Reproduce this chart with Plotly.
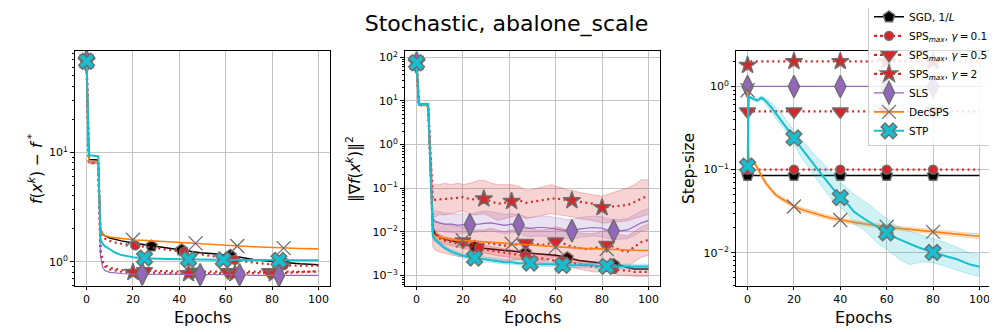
import math
import plotly.graph_objects as go

# ---------------- data: panel 1  f(x^k) - f* ----------------
EPOCHS_F = [0, 1, 5, 6, 7, 8, 10, 12, 15, 20, 21, 24, 25, 28, 35, 41, 42, 44, 46, 47, 49,
            55, 59, 61, 62, 64, 65, 66, 72, 79, 81, 83, 85, 92, 100]
SGD_F = [68, 8.6, 8.5, 2.0, 1.78, 1.72, 1.65, 1.6, 1.55, 1.48, 1.47, 1.43, 1.42, 1.39, 1.33, 1.28,
         1.27, 1.26, 1.24, 1.23, 1.21, 1.18, 1.16, 1.15, 1.14, 1.12, 1.11, 1.1, 1.05, 1.01, 1.0,
         0.99, 0.98, 0.96, 0.94]
SPS01_F = [68, 8.2, 8.1, 1.9, 1.7, 1.62, 1.55, 1.5, 1.46, 1.42, 1.41, 1.38, 1.37, 1.34, 1.29, 1.24,
           1.23, 1.21, 1.19, 1.18, 1.16, 1.12, 1.09, 1.07, 1.06, 1.04, 1.03, 1.02, 0.98, 0.95, 0.94,
           0.93, 0.93, 0.92, 0.92]
SPS05_F = [68, 8.0, 7.9, 1.3, 1.0, 0.93, 0.88, 0.86, 0.84, 0.83, 0.83, 0.82, 0.82, 0.82, 0.82, 0.81,
           0.81, 0.81, 0.81, 0.81, 0.81, 0.81, 0.8, 0.8, 0.8, 0.8, 0.8, 0.8, 0.8, 0.8, 0.8,
           0.8, 0.8, 0.81, 0.81]
SPS2_F = [68, 8.0, 7.9, 1.25, 0.97, 0.9, 0.85, 0.83, 0.81, 0.8, 0.8, 0.79, 0.79, 0.79, 0.79, 0.78,
          0.78, 0.78, 0.78, 0.78, 0.78, 0.78, 0.78, 0.78, 0.78, 0.78, 0.78, 0.78, 0.78, 0.78, 0.78,
          0.79, 0.79, 0.8, 0.82]
SLS_F = [68, 8.0, 7.9, 1.12, 0.88, 0.83, 0.8, 0.79, 0.78, 0.77, 0.77, 0.77, 0.77, 0.77, 0.77, 0.76,
         0.76, 0.76, 0.76, 0.76, 0.76, 0.76, 0.76, 0.76, 0.76, 0.76, 0.76, 0.76, 0.75, 0.75, 0.75,
         0.75, 0.75, 0.75, 0.75]
DEC_F = [68, 8.3, 8.2, 2.0, 1.75, 1.72, 1.68, 1.66, 1.63, 1.59, 1.58, 1.57, 1.56, 1.55, 1.52, 1.49,
         1.49, 1.48, 1.47, 1.47, 1.46, 1.43, 1.42, 1.41, 1.41, 1.4, 1.39, 1.39, 1.37, 1.35, 1.34,
         1.34, 1.33, 1.32, 1.31]
STP_F = [68, 9.4, 9.2, 1.6, 1.45, 1.38, 1.3, 1.22, 1.15, 1.1, 1.09, 1.08, 1.08, 1.07, 1.06, 1.05,
         1.05, 1.05, 1.05, 1.05, 1.05, 1.04, 1.04, 1.04, 1.04, 1.04, 1.04, 1.04, 1.03, 1.03, 1.03,
         1.03, 1.03, 1.03, 1.03]

# ---------------- data: panel 2  ||grad f(x^k)||^2 ----------------
EPOCHS_G = [0, 1, 5, 6, 7, 8, 10, 12, 15, 18, 20, 23, 25, 27, 29, 32, 35, 38, 41, 44, 47, 49, 52,
            55, 58, 60, 63, 65, 67, 70, 73, 76, 80, 82, 85, 88, 91, 94, 97, 100]
SGD_G = [75, 8, 8, 0.3, 0.012, 0.009, 0.0075, 0.0068, 0.0062, 0.0056, 0.0053, 0.0049, 0.0046, 0.0044,
         0.0042, 0.004, 0.0039, 0.0037, 0.0036, 0.0035, 0.0033, 0.0032, 0.0031, 0.003, 0.003, 0.0029,
         0.0027, 0.0025, 0.0024, 0.0022, 0.0021, 0.002, 0.0019, 0.0018, 0.00175, 0.0017, 0.0015,
         0.0014, 0.0014, 0.0014]
SPS01_G = [75, 8, 8, 0.3, 0.011, 0.0085, 0.007, 0.0063, 0.0057, 0.0052, 0.005, 0.0047, 0.0045, 0.0043,
           0.004, 0.0037, 0.0035, 0.0033, 0.0031, 0.003, 0.0028, 0.0027, 0.0026, 0.0024, 0.0023,
           0.0022, 0.0021, 0.002, 0.0019, 0.0018, 0.0017, 0.0016, 0.0015, 0.0015, 0.0014, 0.0013,
           0.0013, 0.0012, 0.0012, 0.0012]
SPS01_G_LO = [75, 8, 8, 0.3, 0.009, 0.007, 0.0058, 0.0052, 0.0047, 0.0043, 0.0041, 0.0039, 0.0037,
              0.0035, 0.0033, 0.003, 0.0028, 0.0027, 0.0025, 0.0024, 0.0022, 0.0021, 0.002, 0.0019,
              0.0018, 0.0017, 0.0016, 0.0015, 0.0015, 0.0014, 0.0013, 0.0012, 0.0012, 0.0012, 0.0011,
              0.001, 0.001, 0.00095, 0.00095, 0.00095]
SPS01_G_HI = [75, 8, 8, 0.3, 0.014, 0.0105, 0.0086, 0.0077, 0.007, 0.0064, 0.0061, 0.0057, 0.0055,
              0.0052, 0.0049, 0.0045, 0.0043, 0.004, 0.0038, 0.0037, 0.0035, 0.0033, 0.0032, 0.003,
              0.0029, 0.0028, 0.0026, 0.0025, 0.0024, 0.0023, 0.0021, 0.002, 0.0019, 0.0019, 0.0018,
              0.0017, 0.0016, 0.0015, 0.0015, 0.0015]
SPS05_G = [75, 8, 8, 0.3, 0.01, 0.0085, 0.0075, 0.007, 0.0065, 0.006, 0.006, 0.0055, 0.0052, 0.005,
           0.0052, 0.0055, 0.005, 0.0048, 0.005, 0.0052, 0.0055, 0.0055, 0.0052, 0.005, 0.0055, 0.006,
           0.0055, 0.005, 0.0045, 0.0042, 0.004, 0.0041, 0.0048, 0.005, 0.0045, 0.0037, 0.0035,
           0.0045, 0.0058, 0.0065]
SPS05_G_HI = [75, 8, 8, 0.3, 0.02, 0.018, 0.016, 0.015, 0.014, 0.013, 0.013, 0.012, 0.011, 0.011,
              0.011, 0.012, 0.011, 0.01, 0.011, 0.011, 0.012, 0.012, 0.011, 0.011, 0.012, 0.013,
              0.012, 0.011, 0.01, 0.0095, 0.009, 0.009, 0.0105, 0.011, 0.01, 0.0085, 0.008, 0.01,
              0.013, 0.015]
SPS05_G_LO = [75, 8, 8, 0.3, 0.0045, 0.0038, 0.0034, 0.0032, 0.0029, 0.0027, 0.0027, 0.0025, 0.0023,
              0.0022, 0.0023, 0.0025, 0.0022, 0.0021, 0.0022, 0.0023, 0.0025, 0.0025, 0.0023, 0.0022,
              0.0025, 0.0027, 0.0025, 0.0022, 0.002, 0.0019, 0.0018, 0.0018, 0.0021, 0.0022, 0.002,
              0.0017, 0.0016, 0.002, 0.0026, 0.0029]
SPS2_G = [75, 8, 8, 0.8, 0.052, 0.054, 0.055, 0.055, 0.058, 0.06, 0.062, 0.056, 0.055, 0.056, 0.057,
          0.05, 0.044, 0.046, 0.05, 0.053, 0.046, 0.048, 0.05, 0.054, 0.057, 0.058, 0.055, 0.053,
          0.052, 0.05, 0.046, 0.044, 0.036, 0.037, 0.038, 0.039, 0.041, 0.048, 0.058, 0.068]
SPS2_G_HI = [75, 8, 8, 0.8, 0.12, 0.12, 0.12, 0.13, 0.12, 0.13, 0.12, 0.13, 0.14, 0.15, 0.15, 0.13,
             0.12, 0.12, 0.12, 0.11, 0.09, 0.09, 0.1, 0.11, 0.12, 0.11, 0.1, 0.09, 0.09, 0.08, 0.075,
             0.07, 0.065, 0.07, 0.08, 0.09, 0.1, 0.12, 0.155, 0.155]
SPS2_G_LO = [75, 8, 8, 0.8, 0.02, 0.022, 0.025, 0.024, 0.026, 0.028, 0.03, 0.026, 0.024, 0.025, 0.026,
             0.022, 0.018, 0.02, 0.022, 0.024, 0.02, 0.021, 0.023, 0.025, 0.026, 0.025, 0.024, 0.023,
             0.022, 0.02, 0.019, 0.018, 0.016, 0.016, 0.017, 0.017, 0.018, 0.02, 0.022, 0.025]
SLS_G = [75, 8, 8, 0.5, 0.02, 0.017, 0.016, 0.015, 0.015, 0.014, 0.0145, 0.0145, 0.015, 0.015, 0.0155,
         0.016, 0.015, 0.014, 0.015, 0.0145, 0.0125, 0.012, 0.0125, 0.0125, 0.012, 0.0115, 0.011,
         0.0105, 0.0105, 0.0115, 0.012, 0.0125, 0.012, 0.011, 0.0105, 0.0105, 0.011, 0.013, 0.016,
         0.018]
SLS_G_HI = [75, 8, 8, 0.5, 0.035, 0.03, 0.028, 0.027, 0.026, 0.025, 0.026, 0.025, 0.027, 0.028, 0.03,
            0.029, 0.027, 0.025, 0.026, 0.025, 0.022, 0.021, 0.022, 0.023, 0.022, 0.021, 0.02, 0.019,
            0.019, 0.021, 0.022, 0.023, 0.022, 0.02, 0.019, 0.019, 0.02, 0.024, 0.03, 0.034]
SLS_G_LO = [75, 8, 8, 0.5, 0.012, 0.011, 0.0105, 0.0098, 0.0097, 0.009, 0.0093, 0.0093, 0.0097,
            0.0097, 0.01, 0.0104, 0.0097, 0.009, 0.0097, 0.0093, 0.008, 0.0077, 0.008, 0.008, 0.0077,
            0.0074, 0.007, 0.0067, 0.0067, 0.0074, 0.0077, 0.008, 0.0077, 0.007, 0.0067, 0.0067,
            0.007, 0.0083, 0.0103, 0.0115]
DEC_G = [75, 8, 8, 0.3, 0.009, 0.008, 0.0075, 0.007, 0.0066, 0.0064, 0.0063, 0.0062, 0.006, 0.0059,
         0.0058, 0.0057, 0.0055, 0.0054, 0.0053, 0.0051, 0.005, 0.0049, 0.0048, 0.0047, 0.0046,
         0.0045, 0.0044, 0.0043, 0.0043, 0.0042, 0.0041, 0.0041, 0.004, 0.004, 0.0039, 0.0039,
         0.0038, 0.0038, 0.0037, 0.0037]
STP_G = [75, 8.5, 8.5, 0.3, 0.008, 0.0065, 0.0052, 0.0043, 0.0035, 0.003, 0.0028, 0.0026, 0.0025,
         0.0024, 0.0023, 0.0022, 0.0021, 0.002, 0.002, 0.0019, 0.0019, 0.0019, 0.0018, 0.0018, 0.0018,
         0.0018, 0.0017, 0.0017, 0.0017, 0.0017, 0.0017, 0.0017, 0.0016, 0.0016, 0.0016, 0.0016,
         0.0016, 0.0016, 0.0016, 0.0016]
STP_G_HI = [75, 9, 9, 0.3, 0.009, 0.0073, 0.0058, 0.0048, 0.0039, 0.0034, 0.0031, 0.0029, 0.0028,
            0.0027, 0.0026, 0.0025, 0.0024, 0.0023, 0.0023, 0.0022, 0.0022, 0.0021, 0.0021, 0.0021,
            0.002, 0.002, 0.0019, 0.0019, 0.0019, 0.0019, 0.0019, 0.0019, 0.0018, 0.0018, 0.0018,
            0.0018, 0.0018, 0.0018, 0.0018, 0.0018]
STP_G_LO = [75, 8, 8, 0.3, 0.0072, 0.0058, 0.0047, 0.0039, 0.0032, 0.0027, 0.0025, 0.0023, 0.0022,
            0.0021, 0.002, 0.002, 0.0019, 0.0018, 0.0018, 0.0017, 0.0017, 0.0017, 0.0016, 0.0016,
            0.0016, 0.0016, 0.0015, 0.0015, 0.0015, 0.0015, 0.0015, 0.0015, 0.0014, 0.0014, 0.0014,
            0.0014, 0.0014, 0.0014, 0.0014, 0.0014]

# ---------------- data: panel 3  step-size ----------------
EPOCHS_S = [0, 0.5, 1, 2, 3, 4, 5, 6, 7, 8, 10, 12, 15, 18, 20, 22, 25, 28, 30, 33, 36, 40, 43, 46,
            50, 53, 56, 60, 63, 66, 70, 73, 76, 80, 83, 86, 90, 93, 96, 100]
EPOCHS_CONST = [0, 20, 40, 60, 80, 100]
EPOCHS_SPS2_S = [0, 0.5, 20, 40, 60, 80, 100]
SGD_S = [0.085, 0.085, 0.085, 0.085, 0.085, 0.085]
SPS01_S = [0.1, 0.1, 0.1, 0.1, 0.1, 0.1]
SPS05_S = [0.5, 0.5, 0.5, 0.5, 0.5, 0.5]
SLS_S = [1.0, 1.0, 1.0, 1.0, 1.0, 1.0]
SPS2_S = [1.8, 2.0, 2.0, 2.0, 2.0, 2.0, 2.0]
DEC_S = [0.9, 0.13, 0.134, 0.13, 0.12, 0.108, 0.095, 0.084, 0.075, 0.068, 0.058, 0.05, 0.044, 0.039,
         0.036, 0.034, 0.032, 0.03, 0.029, 0.0275, 0.0262, 0.0248, 0.024, 0.0232, 0.0223, 0.0217,
         0.0211, 0.0205, 0.02, 0.0196, 0.0191, 0.0187, 0.0183, 0.0178, 0.0174, 0.0171, 0.0167,
         0.0164, 0.0161, 0.0158]
DEC_S_HI = [0.9, 0.135, 0.14, 0.137, 0.127, 0.114, 0.1, 0.089, 0.079, 0.072, 0.061, 0.053, 0.0465,
            0.0412, 0.038, 0.036, 0.0338, 0.0317, 0.0306, 0.029, 0.0277, 0.0262, 0.0254, 0.0245,
            0.0236, 0.0229, 0.0223, 0.0217, 0.0211, 0.0207, 0.0202, 0.0198, 0.0194, 0.0189, 0.0184,
            0.0181, 0.0177, 0.0174, 0.0171, 0.0168]
DEC_S_LO = [0.9, 0.125, 0.128, 0.123, 0.113, 0.102, 0.09, 0.079, 0.071, 0.064, 0.055, 0.047, 0.0415,
            0.0368, 0.034, 0.032, 0.0302, 0.0283, 0.0274, 0.026, 0.0247, 0.0234, 0.0226, 0.0219,
            0.021, 0.0205, 0.0199, 0.0193, 0.0189, 0.0185, 0.018, 0.0176, 0.0172, 0.0167, 0.0164,
            0.0161, 0.0157, 0.0154, 0.0151, 0.0148]
STP_S = [0.11, 0.74, 0.74, 0.72, 0.7, 0.68, 0.7, 0.73, 0.7, 0.66, 0.57, 0.48, 0.38, 0.29, 0.24, 0.2,
         0.155, 0.12, 0.1, 0.08, 0.063, 0.046, 0.039, 0.031, 0.026, 0.023, 0.02, 0.0174, 0.0155,
         0.0142, 0.0128, 0.0118, 0.011, 0.0101, 0.0096, 0.009, 0.0084, 0.0078, 0.0072, 0.0068]
STP_S_HI = [0.11, 0.76, 0.76, 0.75, 0.73, 0.72, 0.74, 0.77, 0.75, 0.72, 0.65, 0.56, 0.46, 0.35, 0.29,
            0.25, 0.2, 0.16, 0.14, 0.115, 0.095, 0.07, 0.06, 0.05, 0.042, 0.037, 0.031, 0.026, 0.022,
            0.02, 0.018, 0.017, 0.016, 0.015, 0.014, 0.013, 0.0118, 0.0108, 0.0098, 0.0095]
STP_S_LO = [0.11, 0.72, 0.72, 0.69, 0.67, 0.65, 0.66, 0.69, 0.65, 0.6, 0.51, 0.42, 0.33, 0.25, 0.2,
            0.16, 0.12, 0.09, 0.075, 0.058, 0.045, 0.035, 0.03, 0.022, 0.019, 0.016, 0.013, 0.011,
            0.0095, 0.0082, 0.0072, 0.0075, 0.0078, 0.0076, 0.0072, 0.0068, 0.0062, 0.0058, 0.0055,
            0.0052]

# marker epochs (markevery) per panel
MARKS_F = {"sgd": [0, 28, 41, 62, 85], "sps01": [0, 21, 42, 64, 85], "sps05": [0, 25, 46, 61, 79],
           "sps2": [0, 20, 44, 64, 81], "sls": [0, 24, 49, 66, 83], "dec": [0, 20, 47, 65, 85],
           "stp": [0, 25, 44, 59, 83]}
MARKS_G = {"sgd": [0, 25, 47, 65, 85], "sps01": [0, 27, 47, 63, 85], "sps05": [0, 20, 47, 60, 82],
           "sps2": [0, 29, 41, 67, 80], "sls": [0, 23, 44, 67, 85], "dec": [0, 20, 41, 60, 82],
           "stp": [0, 25, 49, 63, 82]}
MARKS_S = [0, 20, 40, 60, 80]

TS = "\u2009"
LABELS = {"sgd": "SGD, 1/<i>L</i>",
          "sps01": "SPS<sub><i>max</i></sub>, <i>γ</i>" + TS + "=" + TS + "0.1",
          "sps05": "SPS<sub><i>max</i></sub>, <i>γ</i>" + TS + "=" + TS + "0.5",
          "sps2": "SPS<sub><i>max</i></sub>, <i>γ</i>" + TS + "=" + TS + "2",
          "sls": "SLS", "dec": "DecSPS", "stp": "STP"}
ORDER = ["sgd", "sps01", "sps05", "sps2", "sls", "dec", "stp"]
TITLE = "Stochastic, abalone_scale"
XTITLE = "Epochs"
YTITLES = ["<i>f</i>(<i>x<sup>k</sup></i>) − <i>f</i><sup> *</sup>",
           "‖∇<i>f</i>(<i>x<sup>k</sup></i>)‖<sup>2</sup>",
           "Step-size"]

# ---------------- styles ----------------
RED = "#d62728"
EDGE = "#6e6e6e"
STY = {
    "sgd": dict(color="black", width=1.5, dash="solid", symbol="pentagon", size=12, mcolor="black"),
    "sps01": dict(color=RED, width=2.2, dash="2px,3.5px", symbol="circle", size=9, mcolor=RED),
    "sps05": dict(color=RED, width=2.2, dash="2px,3.5px", symbol="triangle-down", size=14, mcolor=RED),
    "sps2": dict(color=RED, width=2.2, dash="2px,3.5px", symbol="star", size=13, mcolor=RED),
    "sls": dict(color="#9467bd", width=1.2, dash="solid", symbol="diamond-tall", size=16, mcolor="#9467bd"),
    "dec": dict(color="#ff7f0e", width=1.6, dash="solid", symbol="x-thin", size=14, mcolor=EDGE),
    "stp": dict(color="#17becf", width=2.0, dash="solid", symbol="x", size=14, mcolor="#17becf"),
}
BAND = {"sps01": "214,39,40", "sps05": "214,39,40", "sps2": "214,39,40", "sls": "148,103,189",
        "dec": "255,127,14", "stp": "23,190,207", "sgd": "0,0,0"}

fig = go.Figure()


def marker_dict(key):
    s = STY[key]
    if s["symbol"] == "x-thin":
        return dict(symbol="x-thin", size=s["size"], color=EDGE, line=dict(color=EDGE, width=1.3))
    return dict(symbol=s["symbol"], size=s["size"], color=s["mcolor"], line=dict(color=EDGE, width=1.4))


def add(key, ax, x, y, marks, lo=None, hi=None):
    s = STY[key]
    xa, ya = ("x", "y") if ax == 1 else ("x%d" % ax, "y%d" % ax)
    if lo is not None:
        rgb = BAND[key]
        fig.add_trace(go.Scatter(x=x, y=lo, mode="lines", xaxis=xa, yaxis=ya, showlegend=False,
                                 line=dict(color="rgba(%s,0.35)" % rgb, width=0.8), hoverinfo="skip"))
        fig.add_trace(go.Scatter(x=x, y=hi, mode="lines", xaxis=xa, yaxis=ya, showlegend=False,
                                 fill="tonexty", fillcolor="rgba(%s,0.2)" % rgb,
                                 line=dict(color="rgba(%s,0.35)" % rgb, width=0.8), hoverinfo="skip"))
    fig.add_trace(go.Scatter(x=x, y=y, mode="lines", xaxis=xa, yaxis=ya, showlegend=False,
                             line=dict(color=s["color"], width=s["width"], dash=s["dash"])))
    lookup = dict(zip(x, y))
    mx = [m for m in marks if m in lookup]
    my = [lookup[m] for m in mx]
    fig.add_trace(go.Scatter(x=mx, y=my, mode="markers", xaxis=xa, yaxis=ya, showlegend=False,
                             marker=marker_dict(key)))


# panel 1
add("sgd", 1, EPOCHS_F, SGD_F, MARKS_F["sgd"])
add("sps01", 1, EPOCHS_F, SPS01_F, MARKS_F["sps01"])
add("sps05", 1, EPOCHS_F, SPS05_F, MARKS_F["sps05"])
add("sps2", 1, EPOCHS_F, SPS2_F, MARKS_F["sps2"])
add("sls", 1, EPOCHS_F, SLS_F, MARKS_F["sls"])
add("dec", 1, EPOCHS_F, DEC_F, MARKS_F["dec"])
add("stp", 1, EPOCHS_F, STP_F, MARKS_F["stp"])
# panel 2
add("sgd", 2, EPOCHS_G, SGD_G, MARKS_G["sgd"])
add("sps01", 2, EPOCHS_G, SPS01_G, MARKS_G["sps01"], SPS01_G_LO, SPS01_G_HI)
add("sps05", 2, EPOCHS_G, SPS05_G, MARKS_G["sps05"], SPS05_G_LO, SPS05_G_HI)
add("sps2", 2, EPOCHS_G, SPS2_G, MARKS_G["sps2"], SPS2_G_LO, SPS2_G_HI)
add("sls", 2, EPOCHS_G, SLS_G, MARKS_G["sls"], SLS_G_LO, SLS_G_HI)
add("dec", 2, EPOCHS_G, DEC_G, MARKS_G["dec"])
add("stp", 2, EPOCHS_G, STP_G, MARKS_G["stp"], STP_G_LO, STP_G_HI)
# panel 3
add("sgd", 3, EPOCHS_CONST, SGD_S, MARKS_S)
add("sps01", 3, EPOCHS_CONST, SPS01_S, MARKS_S)
add("sps05", 3, EPOCHS_CONST, SPS05_S, MARKS_S)
add("sps2", 3, EPOCHS_SPS2_S, SPS2_S, MARKS_S)
add("sls", 3, EPOCHS_CONST, SLS_S, MARKS_S)
add("dec", 3, EPOCHS_S, DEC_S, MARKS_S, DEC_S_LO, DEC_S_HI)
add("stp", 3, EPOCHS_S, STP_S, MARKS_S, STP_S_LO, STP_S_HI)

# legend entries
for key in ORDER:
    s = STY[key]
    fig.add_trace(go.Scatter(x=[None], y=[None], mode="lines+markers", name=LABELS[key],
                             xaxis="x3", yaxis="y3",
                             line=dict(color=s["color"], width=s["width"],
                                       dash="dot" if s["dash"] != "solid" else "solid"),
                             marker=marker_dict(key), showlegend=True))

W, H = 997, 332
FONT = "DejaVu Sans"
XDOMS = [(67, 322), (397, 652), (728, 983)]
YTITLE_X = [27, 345, 681]


def sup(e):
    return "10<sup>%s</sup>" % (str(e).replace("-", "\u2212"))


def yaxis_cfg(lo, hi, domain_y, anchor):
    decs = [d for d in range(-5, 4) if lo <= d <= hi]
    minors = [m * 10 ** d for d in range(-5, 4) for m in range(2, 10)
              if lo <= math.log10(m * 10 ** d) <= hi]
    return dict(type="log", range=[lo, hi], domain=domain_y, anchor=anchor,
                tickmode="array", tickvals=[10 ** d for d in decs], ticktext=[sup(d) for d in decs],
                ticks="outside", ticklen=4, tickwidth=1, tickcolor="black",
                minor=dict(tickmode="array", tickvals=minors, ticks="outside", ticklen=2,
                           tickwidth=0.8, tickcolor="black", showgrid=False),
                showline=True, linecolor="black", linewidth=1, mirror=True,
                showgrid=True, gridcolor="#c4c4c4", gridwidth=1,
                tickfont=dict(size=11, color="black", family=FONT),
                zeroline=False, automargin=False)


def xaxis_cfg(domain_x, anchor):
    return dict(range=[-5, 105], domain=domain_x, anchor=anchor,
                tickmode="array", tickvals=[0, 20, 40, 60, 80, 100],
                ticks="outside", ticklen=3, tickcolor="black",
                showline=True, linecolor="black", linewidth=1, mirror=True,
                showgrid=True, gridcolor="#c4c4c4", gridwidth=1, zeroline=False,
                tickfont=dict(size=11, color="black", family=FONT), automargin=False)


DY = [(332 - 278) / H, (332 - 43) / H]

annotations = []
for i, (x0, x1) in enumerate(XDOMS):
    annotations.append(dict(text=XTITLE, xref="paper", yref="paper", x=(x0 + x1) / 2 / W,
                            y=(H - 309) / H, xanchor="center", yanchor="middle", showarrow=False,
                            font=dict(size=16, color="black", family=FONT)))
    annotations.append(dict(text=YTITLES[i], xref="paper", yref="paper", x=YTITLE_X[i] / W,
                            y=(H - 161) / H, xanchor="center", yanchor="middle", showarrow=False,
                            textangle=-90, font=dict(size=15.5, color="black", family=FONT)))

fig.update_layout(
    width=W, height=H, margin=dict(l=0, r=0, t=0, b=0, autoexpand=False),
    paper_bgcolor="white", plot_bgcolor="white",
    font=dict(family=FONT, color="black"),
    title=dict(text=TITLE, x=0.5, xanchor="center", y=1 - 15 / H,
               yanchor="middle", font=dict(size=22, color="black", family=FONT)),
    xaxis=xaxis_cfg([XDOMS[0][0] / W, XDOMS[0][1] / W], "y"),
    xaxis2=xaxis_cfg([XDOMS[1][0] / W, XDOMS[1][1] / W], "y2"),
    xaxis3=xaxis_cfg([XDOMS[2][0] / W, XDOMS[2][1] / W], "y3"),
    yaxis=yaxis_cfg(-0.222, 1.926, DY, "x"),
    yaxis2=yaxis_cfg(-3.245, 2.145, DY, "x2"),
    yaxis3=yaxis_cfg(-2.40, 0.426, DY, "x3"),
    annotations=annotations,
    legend=dict(x=860 / W, y=1.02, xanchor="left", yanchor="top", traceorder="normal",
                bgcolor="rgba(255,255,255,0.85)", bordercolor="#cccccc", borderwidth=1,
                font=dict(size=10.5, color="black", family=FONT), tracegroupgap=0, itemwidth=30),
    showlegend=True,
)

fig.write_html("out.html")
